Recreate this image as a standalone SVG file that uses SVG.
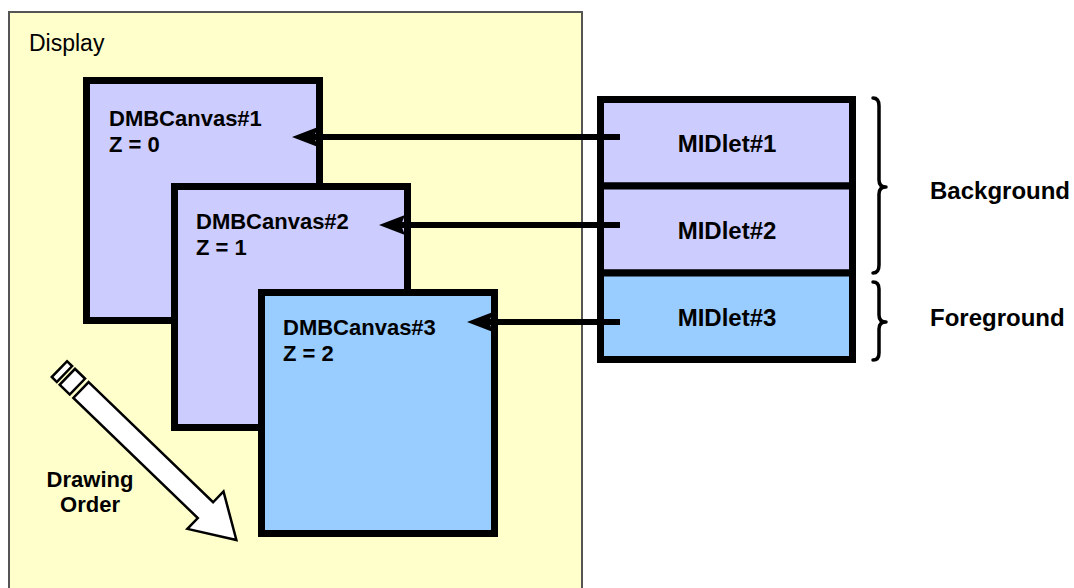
<svg xmlns="http://www.w3.org/2000/svg" width="1074" height="588" viewBox="0 0 1074 588">
<style>
.canvas{stroke:#000;stroke-width:7}
.lav{fill:#CCCCFF}
.blue{fill:#99CCFF}
.t{font-family:"Liberation Sans",Arial,sans-serif;font-weight:bold;font-size:22px;fill:#000}
.big{font-size:24px}
.mid{text-anchor:middle}
.conn{stroke:#000;stroke-width:6;fill:none}
.brace{stroke:#000;stroke-width:3.5;fill:none;stroke-linecap:round;stroke-linejoin:round}
</style>
<defs>
<marker id="ah" markerUnits="userSpaceOnUse" markerWidth="30" markerHeight="24" viewBox="0 -12 30 24" refX="5" refY="0" orient="auto">
<path d="M0,-10 L26,0 L0,10 L4,0 Z" fill="#000"/>
</marker>
</defs>
<rect width="1074" height="588" fill="#fff"/>
<g id="display">
<rect x="9" y="12" width="573" height="590" fill="#FFFFCC" stroke="#555" stroke-width="2"/>
<text x="29" y="51" font-family="Liberation Sans,Arial,sans-serif" font-size="23" fill="#000">Display</text>
</g>
<g id="canvas1">
<rect class="canvas lav" x="86.5" y="80.5" width="233" height="240"/>
<text class="t" x="109" y="126">DMBCanvas#1</text>
<text class="t" x="109" y="152">Z = 0</text>
</g>
<g id="canvas2">
<rect class="canvas lav" x="174.5" y="186.5" width="233" height="241"/>
<text class="t" x="196" y="229">DMBCanvas#2</text>
<text class="t" x="196" y="255">Z = 1</text>
</g>
<g id="canvas3">
<rect class="canvas blue" x="261.5" y="292.5" width="233" height="241"/>
<text class="t" x="283" y="335">DMBCanvas#3</text>
<text class="t" x="283" y="361">Z = 2</text>
</g>
<g id="drawing-order">
<g transform="translate(81,390) rotate(44)" fill="#fff" stroke="#000" stroke-width="2.5" stroke-linejoin="miter">
<rect x="-30" y="-11" width="7" height="22"/>
<rect x="-19" y="-11" width="14" height="22"/>
<path d="M0,-11 L173,-11 L173,-26 L216,0 L173,26 L173,11 L0,11 Z"/>
</g>
<text class="t mid" x="90" y="487" font-size="21">Drawing</text>
<text class="t mid" x="90" y="512" font-size="21">Order</text>
</g>
<g id="midlet1">
<rect class="canvas lav" x="600.5" y="99.5" width="252" height="86.5"/>
<text class="t big mid" x="727" y="152">MIDlet#1</text>
</g>
<g id="midlet2">
<rect class="canvas lav" x="600.5" y="186" width="252" height="87"/>
<text class="t big mid" x="727" y="239">MIDlet#2</text>
</g>
<g id="midlet3">
<rect class="canvas blue" x="600.5" y="273" width="252" height="86.5"/>
<text class="t big mid" x="727" y="326">MIDlet#3</text>
</g>
<g id="background-label">
<path class="brace" d="M873,98 Q879,98 879,106 L879,180 Q879,187 886,187 Q879,187 879,194 L879,265 Q879,273 873,273"/>
<text class="t big" x="930" y="199">Background</text>
</g>
<g id="foreground-label">
<path class="brace" d="M873,282 Q879,282 879,289 L879,315 Q879,322 886,322 Q879,322 879,329 L879,353 Q879,360 873,360"/>
<text class="t big" x="930" y="326">Foreground</text>
</g>
<g id="connectors">
<line class="conn" x1="620" y1="137" x2="313" y2="137" marker-end="url(#ah)"/>
<line class="conn" x1="620" y1="225" x2="400" y2="225" marker-end="url(#ah)"/>
<line class="conn" x1="620" y1="322" x2="488" y2="322" marker-end="url(#ah)"/>
</g>
</svg>
